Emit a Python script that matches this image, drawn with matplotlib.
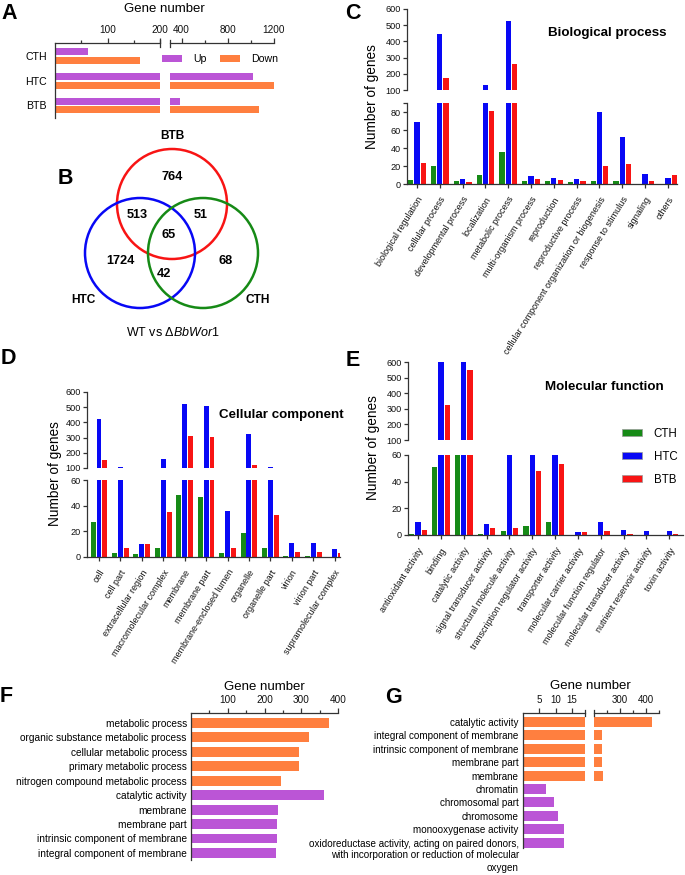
import matplotlib
matplotlib.use('Agg')
import matplotlib.pyplot as plt
from matplotlib.patches import Circle, Patch
import numpy as np

plt.rcParams['font.family'] = ['Liberation Sans', 'DejaVu Sans']
plt.rcParams['mathtext.fontset'] = 'custom'
plt.rcParams['mathtext.it'] = 'Liberation Sans:italic'
plt.rcParams['mathtext.rm'] = 'Liberation Sans'

# ---------------- data ----------------
# Panel A: DEG counts
a_samples = ['CTH', 'HTC', 'BTB']
a_up = [63, 1015, 385]
a_down = [162, 1200, 1070]

# Panel B: Venn counts
b_sets = ['BTB', 'HTC', 'CTH']
b_btb_only = 764
b_htc_only = 1724
b_cth_only = 68
b_btb_htc = 513
b_btb_cth = 51
b_htc_cth = 42
b_all = 65

# Panel C: Biological process
c_cats = ['biological regulation', 'cellular process', 'developmental process',
          'localization', 'metabolic process', 'multi-organism process',
          'reproduction', 'reproductive process',
          'cellular component organization or biogenesis',
          'response to stimulus', 'signaling', 'others']
c_cth = [5, 20, 3, 10, 36, 3, 3, 2, 3, 3, 0, 0]
c_htc = [69, 443, 6, 133, 523, 9, 7, 6, 80, 52, 11, 7]
c_btb = [23, 172, 2, 81, 260, 6, 5, 3, 20, 22, 3, 10]

# Panel D: Cellular component
d_cats = ['cell', 'cell part', 'extracellular region', 'macromolecular complex',
          'membrane', 'membrane part', 'membrane-enclosed lumen', 'organelle',
          'organelle part', 'virion', 'virion part', 'supramolecular complex']
d_cth = [27, 3, 2, 7, 48, 47, 3, 19, 7, 1, 1, 0]
d_htc = [424, 106, 10, 157, 519, 508, 36, 321, 109, 11, 11, 6]
d_btb = [152, 7, 10, 35, 313, 306, 7, 118, 33, 4, 4, 3]

# Panel E: Molecular function
e_cats = ['antioxidant activity', 'binding', 'catalytic activity',
          'signal transducer activity', 'structural molecule activity',
          'transcription regulator activity', 'transporter activity',
          'molecular carrier activity', 'molecular function regulator',
          'molecular transducer activity', 'nutrient reservoir activity',
          'toxin activity']
e_cth = [1, 51, 70, 1, 3, 7, 10, 0, 0, 0, 0, 0]
e_htc = [10, 610, 610, 8, 72, 80, 88, 2, 10, 4, 3, 3]
e_btb = [4, 325, 551, 5, 5, 48, 53, 2, 3, 1, 0, 1]

series_names = ['CTH', 'HTC', 'BTB']

# Panel F
f_terms = ['metabolic process', 'organic substance metabolic process',
           'cellular metabolic process', 'primary metabolic process',
           'nitrogen compound metabolic process', 'catalytic activity',
           'membrane', 'membrane part', 'intrinsic component of membrane',
           'integral component of membrane']
f_counts = [375, 322, 295, 293, 246, 363, 238, 234, 233, 231]
f_direction = ['Down', 'Down', 'Down', 'Down', 'Down', 'Up', 'Up', 'Up', 'Up', 'Up']

# Panel G
g_terms = ['catalytic activity', 'integral component of membrane',
           'intrinsic component of membrane', 'membrane part', 'membrane',
           'chromatin', 'chromosomal part', 'chromosome', 'monooxygenase activity',
           'oxidoreductase activity, acting on paired donors,\nwith incorporation or reduction of molecular\noxygen']
g_counts = [424, 231, 231, 232, 236, 7, 9.6, 10.6, 12.7, 12.7]
g_direction = ['Down', 'Down', 'Down', 'Down', 'Down', 'Up', 'Up', 'Up', 'Up', 'Up']

# ---------------- style ----------------
ORANGE = '#FF7F3F'
PURPLE = '#BB55D6'
GREEN = '#168A16'
BLUE = '#0808F5'
RED = '#F81414'
SPINE = '#333333'
dir_color = {'Up': PURPLE, 'Down': ORANGE}

W, H = 685, 875
fig = plt.figure(figsize=(W / 100, H / 100), dpi=100)


def axpx(x0, y0, x1, y1):
    ax = fig.add_axes([x0 / W, 1 - y1 / H, (x1 - x0) / W, (y1 - y0) / H])
    ax.set_facecolor('none')
    return ax


def style_spines(ax, show):
    for s in ('top', 'bottom', 'left', 'right'):
        ax.spines[s].set_visible(s in show)
        ax.spines[s].set_color(SPINE)
        ax.spines[s].set_linewidth(0.9)


def break_mark(ax, xa, half_px, height_px):
    d = half_px / height_px
    ax.plot([xa, xa], [1 - d, 1 + d], transform=ax.transAxes, clip_on=False,
            color=SPINE, lw=0.9)


def panel_letter(x, y, s):
    fig.text(x / W, 1 - y / H, s, fontsize=15.5, fontweight='bold', ha='left', va='top')


# ---------------- Panel A ----------------
yA = np.arange(len(a_samples))
axA1 = axpx(55, 43, 160, 118)
axA2 = axpx(170, 43, 274, 118)
for ax, lim in ((axA1, (0, 200)), (axA2, (300, 1200))):
    ax.barh(yA - 0.175, a_up, height=0.28, color=PURPLE, linewidth=0)
    ax.barh(yA + 0.175, a_down, height=0.28, color=ORANGE, linewidth=0)
    ax.set_xlim(*lim)
    ax.set_ylim(2.51, -0.53)
    ax.xaxis.tick_top()
    ax.tick_params(axis='x', which='major', length=3.5, width=0.9, labelsize=7.2, pad=2, colors=SPINE, labelcolor='#111111')
    ax.tick_params(axis='x', which='minor', length=2.5, width=0.9, colors=SPINE)
style_spines(axA1, ('top', 'left'))
style_spines(axA2, ('top',))
axA1.set_xticks([100, 200])
axA1.set_xticks([50, 150], minor=True)
axA2.set_xticks([400, 800, 1200])
axA2.set_xticks([600, 1000], minor=True)
axA1.set_yticks(yA)
axA1.set_yticklabels(a_samples, fontsize=7.6)
axA1.tick_params(axis='y', length=0, pad=6)
axA2.set_yticks([])
break_mark(axA1, 1, 3.5, 75)
break_mark(axA2, 0, 3.5, 75)
fig.text(164 / W, 1 - 9 / H, 'Gene number', fontsize=9.5, ha='center', va='center')
fig.legend(handles=[Patch(facecolor=PURPLE, label='Up'), Patch(facecolor=ORANGE, label='Down')],
           ncol=2, loc='center left', bbox_to_anchor=(162 / W, 1 - 59 / H), frameon=False,
           fontsize=7.6, handlelength=1.9, handleheight=0.6, handletextpad=1.1,
           columnspacing=1.2, borderpad=0, borderaxespad=0)
panel_letter(1, 3, 'A')

# ---------------- Panel B ----------------
axB = axpx(55, 120, 300, 345)
axB.set_xlim(55, 300)
axB.set_ylim(345, 120)
axB.set_aspect('equal')
axB.axis('off')
circles = [((172, 204), RED), ((140, 253), BLUE), ((203, 253), GREEN)]
for (cx, cy), col in circles:
    axB.add_patch(Circle((cx, cy), 55, fill=False, edgecolor=col, lw=1.8))
venn_text = [((172, 177), b_btb_only), ((137, 215), b_btb_htc), ((201, 215), b_btb_cth),
             ((169, 235), b_all), ((120, 261), b_htc_only), ((226, 261), b_cth_only),
             ((164, 274), b_htc_cth)]
for (tx, ty), v in venn_text:
    axB.text(tx, ty, str(v), fontsize=9.2, fontweight='bold', ha='center', va='center')
for (tx, ty), name in zip([(172, 136), (83, 300), (258, 300)], b_sets):
    axB.text(tx, ty, name, fontsize=8.6, fontweight='bold', ha='center', va='center')
fig.text(173 / W, 1 - 332 / H, 'WT vs Δ$\\mathit{BbWor1}$', fontsize=9, ha='center', va='center')
panel_letter(58, 168, 'B')


# ---------------- GO panels ----------------
def go_panel(x0, x1, up_px, lo_px, lo_max, lo_ticks, lo_labels, cats, cth, htc, btb, xlim):
    ax_up = axpx(x0, up_px[0], x1, up_px[1])
    ax_lo = axpx(x0, lo_px[0], x1, lo_px[1])
    x = np.arange(len(cats))
    offs = [-0.275, 0.0, 0.275]
    for ax in (ax_up, ax_lo):
        for vals, col, off in zip((cth, htc, btb), (GREEN, BLUE, RED), offs):
            ax.bar(x + off, vals, width=0.23, color=col, linewidth=0)
        ax.set_xlim(*xlim)
        ax.tick_params(axis='y', labelsize=6.6, length=3, width=0.9, pad=1.5,
                       colors=SPINE, labelcolor='#111111')
    style_spines(ax_up, ('left',))
    style_spines(ax_lo, ('left', 'bottom'))
    ax_up.set_ylim(100, 600)
    ax_up.set_yticks(range(100, 601, 100))
    ax_up.set_xticks([])
    ax_lo.set_ylim(0, lo_max)
    ax_lo.set_yticks(lo_ticks)
    ax_lo.set_yticklabels(lo_labels)
    ax_lo.set_xticks(x)
    ax_lo.set_xticklabels(cats, rotation=58, ha='right', rotation_mode='anchor', fontsize=6.5)
    ax_lo.tick_params(axis='x', length=3, width=0.9, pad=5, colors=SPINE, labelcolor='#111111')
    return ax_up, ax_lo


# Panel C
go_panel(407, 677, (9, 90), (103, 184), 90, [0, 20, 40, 60, 80, 90], ['0', '20', '40', '60', '80', ''],
         c_cats, c_cth, c_htc, c_btb, (-0.44, 11.4))
fig.text(372 / W, 1 - 97 / H, 'Number of genes', rotation=90, fontsize=9.8, ha='center', va='center')
fig.text(548 / W, 1 - 33 / H, 'Biological process', fontsize=9.6, fontweight='bold', ha='left', va='center')
panel_letter(345, 3, 'C')

# Panel D
go_panel(87, 340, (392, 468), (480, 557), 60, [0, 20, 40, 60], ['0', '20', '40', '60'],
         d_cats, d_cth, d_htc, d_btb, (-0.56, 11.25))
fig.text(55 / W, 1 - 474 / H, 'Number of genes', rotation=90, fontsize=9.8, ha='center', va='center')
fig.text(219 / W, 1 - 415 / H, 'Cellular component', fontsize=9.6, fontweight='bold', ha='left', va='center')
panel_letter(1, 348, 'D')

# Panel E
go_panel(408, 683, (362, 440), (455, 535), 60, [0, 20, 40, 60], ['0', '20', '40', '60'],
         e_cats, e_cth, e_htc, e_btb, (-0.44, 11.6))
fig.text(373 / W, 1 - 448 / H, 'Number of genes', rotation=90, fontsize=9.8, ha='center', va='center')
fig.text(545 / W, 1 - 387 / H, 'Molecular function', fontsize=9.6, fontweight='bold', ha='left', va='center')
fig.legend(handles=[Patch(facecolor=c, edgecolor='#999999', lw=0.5, label=n)
                    for c, n in zip((GREEN, BLUE, RED), series_names)],
           loc='upper left', bbox_to_anchor=(622 / W, 1 - 428 / H), frameon=False,
           fontsize=8.3, handlelength=1.75, handleheight=0.55, handletextpad=1.0,
           labelspacing=0.95, borderpad=0, borderaxespad=0)
panel_letter(346, 350, 'E')

# ---------------- Panel F ----------------
yF = np.arange(len(f_terms))
axF = axpx(191, 713, 338, 860)
axF.barh(yF, f_counts, height=0.69, color=[dir_color[d] for d in f_direction], linewidth=0)
axF.set_xlim(0, 400)
axF.set_ylim(9.49, -0.69)
axF.xaxis.tick_top()
axF.set_xticks([100, 200, 300, 400])
axF.set_xticks([50, 150, 250, 350], minor=True)
axF.tick_params(axis='x', which='major', length=3.5, width=0.9, labelsize=7.2, pad=2, colors=SPINE, labelcolor='#111111')
axF.tick_params(axis='x', which='minor', length=2.5, width=0.9, colors=SPINE)
axF.set_yticks(yF)
axF.set_yticklabels(f_terms, fontsize=7.3)
axF.tick_params(axis='y', length=0, pad=3)
style_spines(axF, ('top', 'left'))
fig.text(264 / W, 1 - 687 / H, 'Gene number', fontsize=9.5, ha='center', va='center')
panel_letter(0, 686, 'F')

# ---------------- Panel G ----------------
yG = np.arange(len(g_terms))
axG1 = axpx(523, 713, 585, 848)
axG2 = axpx(594, 713, 659, 848)
for ax, lim in ((axG1, (0, 19)), (axG2, (200, 450))):
    ax.barh(yG, g_counts, height=0.74, color=[dir_color[d] for d in g_direction], linewidth=0)
    ax.set_xlim(*lim)
    ax.set_ylim(9.4, -0.67)
    ax.xaxis.tick_top()
    ax.tick_params(axis='x', which='major', length=3.5, width=0.9, labelsize=7.0, pad=2, colors=SPINE, labelcolor='#111111')
    ax.tick_params(axis='x', which='minor', length=2.5, width=0.9, colors=SPINE)
style_spines(axG1, ('top', 'left'))
style_spines(axG2, ('top',))
axG1.set_xticks([5, 10, 15])
axG2.set_xticks([300, 400])
axG2.set_xticks([250, 350, 450], minor=True)
axG2.set_yticks([])
break_mark(axG1, 1, 3, 135)
break_mark(axG2, 0, 3, 135)
axG1.set_yticks(yG)
first_lines = [t.split('\n')[0] for t in g_terms]
axG1.set_yticklabels(first_lines, fontsize=7.1)
axG1.tick_params(axis='y', length=0, pad=3)
for i, t in enumerate(g_terms):
    rest = t.split('\n')[1:]
    if rest:
        axG1.annotate('\n'.join(rest), xy=(0, i), xycoords=('axes fraction', 'data'),
                      xytext=(-3, -5.5), textcoords='offset points', ha='right', va='top',
                      fontsize=7.1, linespacing=1.4, annotation_clip=False)
fig.text(590 / W, 1 - 686 / H, 'Gene number', fontsize=9.5, ha='center', va='center')
panel_letter(385, 687, 'G')

fig.savefig('out.png', dpi=100)
